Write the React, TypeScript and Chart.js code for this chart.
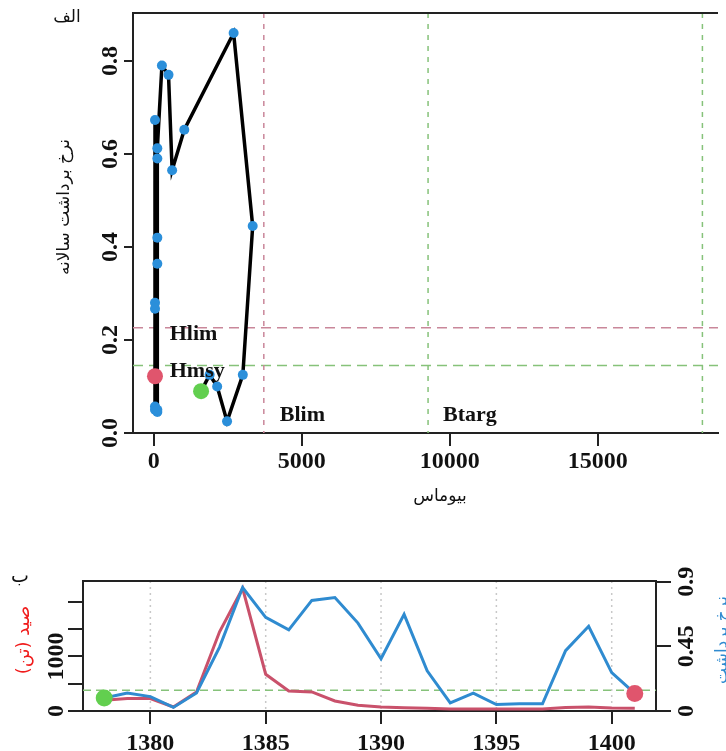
import React, { useEffect, useRef } from "react";
import { Chart, registerables } from "chart.js";
Chart.register(...registerables);

// ---- data ----
const years = [1378, 1379, 1380, 1381, 1382, 1383, 1384, 1385, 1386, 1387, 1388, 1389, 1390, 1391, 1392, 1393, 1394, 1395, 1396, 1397, 1398, 1399, 1400, 1401];
const biomass = [1600, 1889, 2144, 2478, 3011, 3344, 2700, 1033, 622, 500, 277, 122, 122, 43, 43, 43, 43, 122, 43, 122, 122, 122, 43, 43];
const harvestRate = [0.09, 0.125, 0.1, 0.025, 0.125, 0.445, 0.86, 0.652, 0.565, 0.77, 0.79, 0.612, 0.364, 0.673, 0.28, 0.057, 0.125, 0.045, 0.05, 0.05, 0.42, 0.59, 0.267, 0.122];
const catchTons = [196, 227, 227, 73, 349, 1450, 2246, 673, 367, 349, 183, 105, 73, 60, 50, 37, 37, 37, 37, 37, 62, 73, 55, 50];

const HLIM = 0.2265;
const HMSY = 0.145;
const BLIM = 3720;
const BTARG = 9270;
const BUPPER = 18540;

const biomassTicks = [0, 5000, 10000, 15000];
const biomassTickLabels = ["0", "5000", "10000", "15000"];
const rateTicks = [0, 0.2, 0.4, 0.6, 0.8];
const rateTickLabels = ["0.0", "0.2", "0.4", "0.6", "0.8"];
const yearTicks = [1380, 1385, 1390, 1395, 1400];
const yearTickLabels = ["1380", "1385", "1390", "1395", "1400"];
const catchTicks = [0, 500, 1000, 1500, 2000];
const catchTickLabels = ["0", "", "1000", "", ""];
const rightRateTicks = [0, 0.45, 0.9];
const rightRateTickLabels = ["0", "0.45", "0.9"];

// ---- styles ----
const AXIS = "#222222";
const BLUE = "#2b8fda";
const BLUE_LINE = "#2f8bd0";
const RED_LINE = "#c9516b";
const RED_DOT = "#e0556d";
const GREEN_DOT = "#62cf4f";
const PINK_DASH = "#c9879a";
const GREEN_DASH = "#86c27a";
const FONT_NUM = 'bold 24px "Liberation Serif", "Times New Roman", serif';
const FONT_LBL = 'bold 22px "Liberation Serif", "Times New Roman", serif';
const FONT_AR = '17px "DejaVu Sans", sans-serif';

function rotText(ctx: CanvasRenderingContext2D, text: string, x: number, y: number, font: string, color: string, baseline: CanvasTextBaseline, rtl = false) {
  ctx.save();
  ctx.translate(x, y);
  ctx.rotate(-Math.PI / 2);
  ctx.font = font;
  ctx.fillStyle = color;
  ctx.textAlign = "center";
  ctx.textBaseline = baseline;
  if (rtl) (ctx as any).direction = "rtl";
  ctx.fillText(text, 0, 0);
  ctx.restore();
}

function plainText(ctx: CanvasRenderingContext2D, text: string, x: number, y: number, font: string, color: string, align: CanvasTextAlign, baseline: CanvasTextBaseline, rtl = false) {
  ctx.save();
  ctx.font = font;
  ctx.fillStyle = color;
  ctx.textAlign = align;
  ctx.textBaseline = baseline;
  if (rtl) (ctx as any).direction = "rtl";
  ctx.fillText(text, x, y);
  ctx.restore();
}

function line(ctx: CanvasRenderingContext2D, x1: number, y1: number, x2: number, y2: number, color: string, width: number, dash: number[] = []) {
  ctx.save();
  ctx.strokeStyle = color;
  ctx.lineWidth = width;
  ctx.setLineDash(dash);
  ctx.beginPath();
  ctx.moveTo(x1, y1);
  ctx.lineTo(x2, y2);
  ctx.stroke();
  ctx.restore();
}

function TopChart() {
  const ref = useRef<HTMLCanvasElement>(null);
  useEffect(() => {
    const canvas = ref.current!;
    const deco = {
      id: "decoTop",
      beforeDatasetsDraw(chart: any) {
        const { ctx, chartArea: a } = chart;
        const xs = chart.scales.x;
        const ys = chart.scales.y;
        const yl = ys.getPixelForValue(HLIM);
        const ym = ys.getPixelForValue(HMSY);
        line(ctx, a.left, yl, a.right, yl, PINK_DASH, 1.5, [10, 6]);
        line(ctx, a.left, ym, a.right, ym, GREEN_DASH, 1.5, [10, 6]);
        const xb = xs.getPixelForValue(BLIM);
        line(ctx, xb, a.top, xb, a.bottom, PINK_DASH, 1.5, [5, 6]);
        [BTARG, BUPPER].forEach((v) => {
          const xp = xs.getPixelForValue(v);
          line(ctx, xp, a.top, xp, a.bottom, GREEN_DASH, 1.5, [5, 6]);
        });
      },
      afterDraw(chart: any) {
        const { ctx, chartArea: a } = chart;
        const xs = chart.scales.x;
        const ys = chart.scales.y;
        line(ctx, a.left - 1, a.top, a.right, a.top, AXIS, 2);
        biomassTicks.forEach((v, i) => {
          plainText(ctx, biomassTickLabels[i], xs.getPixelForValue(v), a.bottom + 35, FONT_NUM, "#111", "center", "alphabetic");
        });
        rateTicks.forEach((v, i) => {
          rotText(ctx, rateTickLabels[i], a.left - 16, ys.getPixelForValue(v), FONT_NUM, "#111", "alphabetic");
        });
        const x0 = xs.getPixelForValue(0);
        plainText(ctx, "Hlim", x0 + 16, ys.getPixelForValue(HLIM) + 12, FONT_LBL, "#111", "left", "alphabetic");
        plainText(ctx, "Hmsy", x0 + 16, ys.getPixelForValue(HMSY) + 11, FONT_LBL, "#111", "left", "alphabetic");
        const yb = ys.getPixelForValue(0) - 12;
        plainText(ctx, "Blim", xs.getPixelForValue(BLIM) + 16, yb, FONT_LBL, "#111", "left", "alphabetic");
        plainText(ctx, "Btarg", xs.getPixelForValue(BTARG) + 15, yb, FONT_LBL, "#111", "left", "alphabetic");
        plainText(ctx, "الف", 67, 18, FONT_AR, "#111", "center", "middle", true);
        rotText(ctx, "نرخ برداشت سالانه", 65, 207, FONT_AR, "#111", "middle", true);
        plainText(ctx, "بیوماس", 440, 497, FONT_AR, "#111", "center", "middle", true);
      },
    };
    const traj = years.map((_, i) => ({ x: biomass[i], y: harvestRate[i] }));
    const last = years.length - 1;
    const chart = new Chart(canvas, {
      type: "scatter",
      data: {
        datasets: [
          { data: [{ x: biomass[0], y: harvestRate[0] }], pointRadius: 8, pointBackgroundColor: GREEN_DOT, pointBorderWidth: 0, showLine: false } as any,
          { data: [{ x: biomass[last], y: harvestRate[last] }], pointRadius: 8, pointBackgroundColor: RED_DOT, pointBorderWidth: 0, showLine: false } as any,
          { data: traj, showLine: true, borderColor: "#000", borderWidth: 3.5, tension: 0, pointRadius: 5, pointBackgroundColor: BLUE, pointBorderWidth: 0 } as any,
        ],
      },
      options: {
        animation: false,
        responsive: false,
        events: [],
        layout: { padding: { top: 13, left: 0, right: 0, bottom: 0 } },
        plugins: { legend: { display: false }, tooltip: { enabled: false } },
        scales: {
          x: {
            type: "linear",
            min: -700,
            max: 19067,
            bounds: "data",
            afterBuildTicks: (s: any) => { s.ticks = biomassTicks.map((v) => ({ value: v })); },
            afterFit: (s: any) => { s.height = 87; },
            ticks: { display: false },
            grid: { drawOnChartArea: false, drawTicks: true, tickLength: 13, color: AXIS, lineWidth: 2 },
            border: { display: true, color: AXIS, width: 2 },
          },
          y: {
            type: "linear",
            min: 0,
            max: 0.903,
            bounds: "data",
            afterBuildTicks: (s: any) => { s.ticks = rateTicks.map((v) => ({ value: v })); },
            afterFit: (s: any) => { s.width = 133; },
            ticks: { display: false },
            grid: { drawOnChartArea: false, drawTicks: true, tickLength: 9, color: AXIS, lineWidth: 2 },
            border: { display: true, color: AXIS, width: 2 },
          },
        },
      } as any,
      plugins: [deco],
    });
    return () => chart.destroy();
  }, []);
  return <canvas ref={ref} width={726} height={520} style={{ position: "absolute", left: 0, top: 0, width: 726, height: 520 }} />;
}

function BottomChart() {
  const ref = useRef<HTMLCanvasElement>(null);
  useEffect(() => {
    const canvas = ref.current!;
    const deco = {
      id: "decoBottom",
      beforeDatasetsDraw(chart: any) {
        const { ctx, chartArea: a } = chart;
        const xs = chart.scales.x;
        const y1 = chart.scales.y1;
        yearTicks.forEach((v) => {
          const xp = xs.getPixelForValue(v);
          line(ctx, xp, a.top, xp, a.bottom, "#c8c8c8", 1.5, [2, 4]);
        });
        const ym = y1.getPixelForValue(HMSY);
        line(ctx, a.left, ym, a.right, ym, GREEN_DASH, 1.5, [8, 5]);
      },
      afterDraw(chart: any) {
        const { ctx, chartArea: a } = chart;
        const xs = chart.scales.x;
        const ys = chart.scales.y;
        const y1 = chart.scales.y1;
        line(ctx, a.left - 1, a.top, a.right + 1, a.top, AXIS, 2);
        yearTicks.forEach((v, i) => {
          plainText(ctx, yearTickLabels[i], xs.getPixelForValue(v), a.bottom + 39, FONT_NUM, "#111", "center", "alphabetic");
        });
        catchTicks.forEach((v, i) => {
          if (catchTickLabels[i]) rotText(ctx, catchTickLabels[i], a.left - 20, ys.getPixelForValue(v), FONT_NUM, "#111", "alphabetic");
        });
        rightRateTicks.forEach((v, i) => {
          rotText(ctx, rightRateTickLabels[i], a.right + 37, y1.getPixelForValue(v), FONT_NUM, "#111", "alphabetic");
        });
        plainText(ctx, "ب", 20, 57, '19px "DejaVu Sans", sans-serif', "#111", "center", "middle", true);
        rotText(ctx, "صید (تن)", 24, 120, '18px "DejaVu Sans", sans-serif', "#f01c1c", "middle", true);
        rotText(ctx, "نرخ برداشت", 723, 120, FONT_AR, BLUE_LINE, "middle", true);
      },
    };
    const last = years.length - 1;
    const chart = new Chart(canvas, {
      type: "scatter",
      data: {
        datasets: [
          { data: [{ x: years[0], y: harvestRate[0] }], yAxisID: "y1", pointRadius: 8.5, pointBackgroundColor: GREEN_DOT, pointBorderWidth: 0, showLine: false } as any,
          { data: [{ x: years[last], y: harvestRate[last] }], yAxisID: "y1", pointRadius: 8.5, pointBackgroundColor: RED_DOT, pointBorderWidth: 0, showLine: false } as any,
          { data: years.map((yr, i) => ({ x: yr, y: harvestRate[i] })), yAxisID: "y1", showLine: true, borderColor: BLUE_LINE, borderWidth: 3, tension: 0, pointRadius: 0 } as any,
          { data: years.map((yr, i) => ({ x: yr, y: catchTons[i] })), yAxisID: "y", showLine: true, borderColor: RED_LINE, borderWidth: 3, tension: 0, pointRadius: 0 } as any,
        ],
      },
      options: {
        animation: false,
        responsive: false,
        events: [],
        layout: { padding: { top: 61, left: 0, right: 0, bottom: 0 } },
        plugins: { legend: { display: false }, tooltip: { enabled: false } },
        scales: {
          x: {
            type: "linear",
            min: 1377.08,
            max: 1401.92,
            bounds: "data",
            afterBuildTicks: (s: any) => { s.ticks = yearTicks.map((v) => ({ value: v })); },
            afterFit: (s: any) => { s.height = 40; },
            ticks: { display: false },
            grid: { drawOnChartArea: false, drawTicks: true, tickLength: 13, color: AXIS, lineWidth: 2 },
            border: { display: true, color: AXIS, width: 2 },
          },
          y: {
            type: "linear",
            position: "left",
            min: 0,
            max: 2380,
            bounds: "data",
            afterBuildTicks: (s: any) => { s.ticks = catchTicks.map((v) => ({ value: v })); },
            afterFit: (s: any) => { s.width = 83; },
            ticks: { display: false },
            grid: { drawOnChartArea: false, drawTicks: true, tickLength: 15, color: AXIS, lineWidth: 2 },
            border: { display: true, color: AXIS, width: 2 },
          },
          y1: {
            type: "linear",
            position: "right",
            min: 0,
            max: 0.905,
            bounds: "data",
            afterBuildTicks: (s: any) => { s.ticks = rightRateTicks.map((v) => ({ value: v })); },
            afterFit: (s: any) => { s.width = 70; },
            ticks: { display: false },
            grid: { drawOnChartArea: false, drawTicks: true, tickLength: 15, color: AXIS, lineWidth: 2 },
            border: { display: true, color: AXIS, width: 2 },
          },
        },
      } as any,
      plugins: [deco],
    });
    return () => chart.destroy();
  }, []);
  return <canvas ref={ref} width={726} height={231} style={{ position: "absolute", left: 0, top: 520, width: 726, height: 231 }} />;
}

export default function App() {
  return (
    <div style={{ position: "absolute", left: 0, top: 0, width: 726, height: 751, overflow: "hidden", background: "#fff" }}>
      <TopChart />
      <BottomChart />
    </div>
  );
}
